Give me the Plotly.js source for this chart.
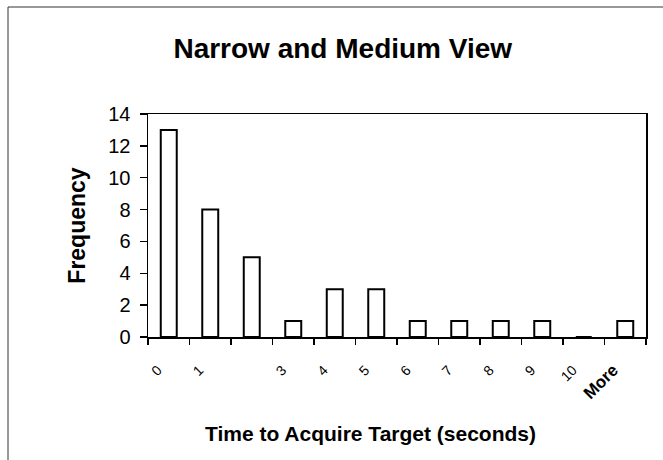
<!DOCTYPE html>
<html>
<head>
<meta charset="utf-8">
<script src="https://cdn.plot.ly/plotly-3.0.1.min.js"></script>
<style>
html,body{margin:0;padding:0;background:#fff;}
#chart{width:663px;height:460px;}
</style>
</head>
<body>
<div id="chart"></div>
<script>
// Data
const categories = ["0","1","2","3","4","5","6","7","8","9","10","More"];
const tickLabels = ["0","1","","3","4","5","6","7","8","9","10","<b><span style=\"font-size:17px\">More</span></b>"];
const frequency = [13, 8, 5, 1, 3, 3, 1, 1, 1, 1, 0, 1];
const yTicks = [0, 2, 4, 6, 8, 10, 12, 14];

const FONT = "Liberation Sans, Arial, Helvetica, sans-serif";

const trace = {
  type: "bar",
  x: categories,
  y: frequency,
  marker: { color: "#ffffff", line: { color: "#000000", width: 2 } },
  hoverinfo: "x+y",
  showlegend: false
};

const layout = {
  width: 663,
  height: 460,
  margin: { l: 148, r: 17, t: 114, b: 123, pad: 0 },
  paper_bgcolor: "#ffffff",
  plot_bgcolor: "#ffffff",
  bargap: 0.615,
  font: { family: FONT, color: "#000000" },
  title: {
    text: "Narrow and Medium View",
    font: { family: FONT, size: 28, weight: "bold", color: "#000000" },
    x: 0.517, xref: "container", xanchor: "center",
    y: 0.896, yref: "container", yanchor: "middle"
  },
  xaxis: {
    type: "category",
    tickmode: "array",
    tickvals: categories,
    ticktext: tickLabels,
    tickson: "boundaries",
    ticks: "outside",
    ticklen: 6,
    tickwidth: 1.5,
    tickcolor: "#000000",
    tickangle: -45,
    tickfont: { family: FONT, size: 14, color: "#000000" },
    ticklabelshift: -11,
    ticklabelstandoff: 18,
    showline: true,
    linecolor: "#000000",
    linewidth: 1.5,
    mirror: true,
    showgrid: false,
    zeroline: false,
    fixedrange: true
  },
  yaxis: {
    range: [0, 14],
    tickmode: "array",
    tickvals: yTicks,
    ticks: "outside",
    ticklen: 7,
    tickwidth: 1.5,
    tickcolor: "#000000",
    tickfont: { family: FONT, size: 20, color: "#000000" },
    ticklabelstandoff: 5,
    showline: true,
    linecolor: "#000000",
    linewidth: 1.5,
    mirror: true,
    showgrid: false,
    zeroline: false,
    fixedrange: true,
    title: {
      text: "Frequency",
      font: { family: FONT, size: 23, weight: "bold", color: "#000000" },
      standoff: 16
    }
  },
  annotations: [{
    text: "Time to Acquire Target (seconds)",
    xref: "paper", yref: "paper",
    x: 0.4458, y: -0.4305,
    xanchor: "center", yanchor: "middle",
    showarrow: false,
    font: { family: FONT, size: 21, weight: "bold", color: "#000000" }
  }],
  shapes: [{
    type: "rect",
    xref: "paper", yref: "paper",
    x0: -0.2811, x1: 1.06,
    y0: -0.62, y1: 1.4798,
    line: { color: "#333333", width: 1 },
    fillcolor: "rgba(0,0,0,0)",
    layer: "below"
  }]
};

Plotly.newPlot("chart", [trace], layout, { staticPlot: true, displayModeBar: false });
</script>
</body>
</html>
